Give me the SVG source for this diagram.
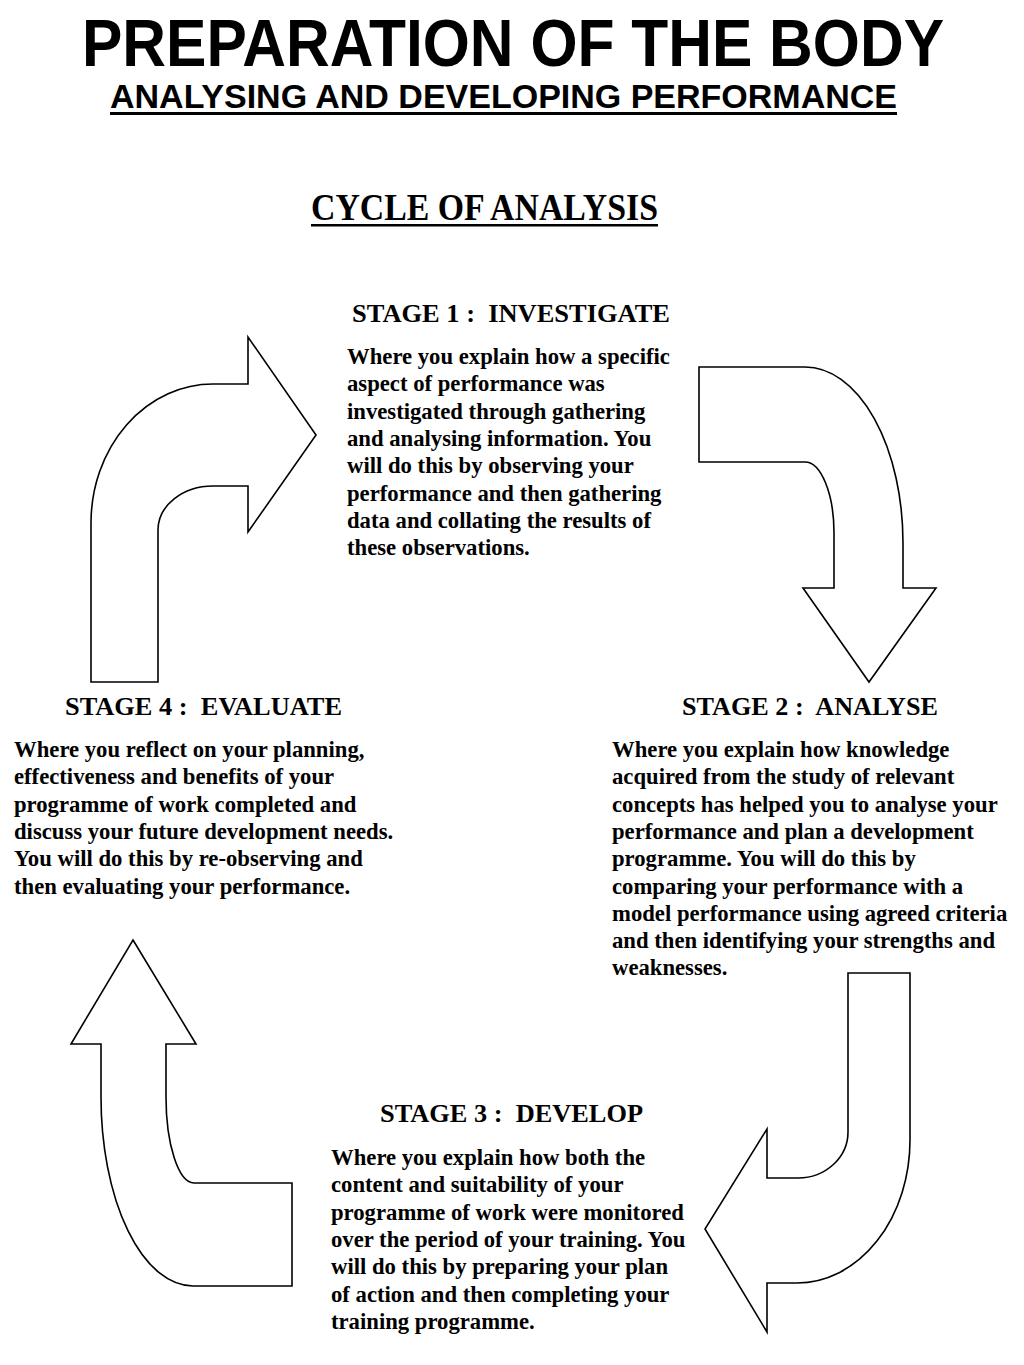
<svg xmlns="http://www.w3.org/2000/svg" width="1024" height="1365" viewBox="0 0 1024 1365">
<style>
.arrow{fill:#fff;stroke:#000;stroke-width:1.6;stroke-linejoin:miter}
.h{font-family:"Liberation Serif","Times New Roman",serif;font-weight:bold;font-size:25.6px;fill:#000}
.b{font-family:"Liberation Serif","Times New Roman",serif;font-weight:bold;font-size:22.7px;fill:#000}
.sans{font-family:"Liberation Sans",Arial,sans-serif;font-weight:bold;fill:#000}
</style>
<rect width="1024" height="1365" fill="#fff"/>
<g id="title">
<text class="sans" x="82" y="66" font-size="66" textLength="862" lengthAdjust="spacingAndGlyphs">PREPARATION OF THE BODY</text>
<text class="sans" x="110" y="108" font-size="33" textLength="787" lengthAdjust="spacingAndGlyphs">ANALYSING AND DEVELOPING PERFORMANCE</text>
<rect x="110" y="112" width="787" height="3" fill="#000"/>
<text x="311" y="220" font-family="Liberation Serif,'Times New Roman',serif" font-weight="bold" font-size="37" textLength="347" lengthAdjust="spacingAndGlyphs">CYCLE OF ANALYSIS</text>
<rect x="311" y="224" width="347" height="2.5" fill="#000"/>
</g>
<g id="stage1">
<text class="h" x="352" y="322" textLength="318" lengthAdjust="spacingAndGlyphs" xml:space="preserve">STAGE 1 :  INVESTIGATE</text>
<text class="b" x="347" y="364">
<tspan x="347" dy="0">Where you explain how a specific</tspan>
<tspan x="347" dy="27.3">aspect of performance was</tspan>
<tspan x="347" dy="27.3">investigated through gathering</tspan>
<tspan x="347" dy="27.3">and analysing information. You</tspan>
<tspan x="347" dy="27.3">will do this by observing your</tspan>
<tspan x="347" dy="27.3">performance and then gathering</tspan>
<tspan x="347" dy="27.3">data and collating the results of</tspan>
<tspan x="347" dy="27.3">these observations.</tspan>
</text>
</g>
<g id="stage2">
<text class="h" x="682" y="715" textLength="256" lengthAdjust="spacingAndGlyphs" xml:space="preserve">STAGE 2 :  ANALYSE</text>
<text class="b" x="612" y="757">
<tspan x="612" dy="0">Where you explain how knowledge</tspan>
<tspan x="612" dy="27.3">acquired from the study of relevant</tspan>
<tspan x="612" dy="27.3">concepts has helped you to analyse your</tspan>
<tspan x="612" dy="27.3">performance and plan a development</tspan>
<tspan x="612" dy="27.3">programme. You will do this by</tspan>
<tspan x="612" dy="27.3">comparing your performance with a</tspan>
<tspan x="612" dy="27.3">model performance using agreed criteria</tspan>
<tspan x="612" dy="27.3">and then identifying your strengths and</tspan>
<tspan x="612" dy="27.3">weaknesses.</tspan>
</text>
</g>
<g id="stage3">
<text class="h" x="380" y="1122" textLength="263" lengthAdjust="spacingAndGlyphs" xml:space="preserve">STAGE 3 :  DEVELOP</text>
<text class="b" x="331" y="1165">
<tspan x="331" dy="0">Where you explain how both the</tspan>
<tspan x="331" dy="27.3">content and suitability of your</tspan>
<tspan x="331" dy="27.3">programme of work were monitored</tspan>
<tspan x="331" dy="27.3">over the period of your training. You</tspan>
<tspan x="331" dy="27.3">will do this by preparing your plan</tspan>
<tspan x="331" dy="27.3">of action and then completing your</tspan>
<tspan x="331" dy="27.3">training programme.</tspan>
</text>
</g>
<g id="stage4">
<text class="h" x="65" y="715" textLength="277" lengthAdjust="spacingAndGlyphs" xml:space="preserve">STAGE 4 :  EVALUATE</text>
<text class="b" x="14" y="757">
<tspan x="14" dy="0">Where you reflect on your planning,</tspan>
<tspan x="14" dy="27.3">effectiveness and benefits of your</tspan>
<tspan x="14" dy="27.3">programme of work completed and</tspan>
<tspan x="14" dy="27.3">discuss your future development needs.</tspan>
<tspan x="14" dy="27.3">You will do this by re-observing and</tspan>
<tspan x="14" dy="27.3">then evaluating your performance.</tspan>
</text>
</g>
<g id="connectors">
<path id="arrow-4-to-1" class="arrow" d="M91,682 L91,523 A122,139 0 0 1 213,384 L248,384 L248,337 L316,435 L248,532 L248,486 L213,486 A55,44 0 0 0 158,530 L158,682 Z"/>
<path id="arrow-1-to-2" class="arrow" d="M699,367 L805,367 A98,176 0 0 1 903,543 L903,588 L936,588 L869,682 L803,588 L834,588 L834,533 A29,71 0 0 0 805,462 L699,462 Z"/>
<path id="arrow-2-to-3" class="arrow" d="M848,973 L910,973 L910,1140 A113,143 0 0 1 797,1283 L767,1283 L767,1332 L705,1229 L767,1129 L767,1178 L798,1178 A50,46 0 0 0 848,1132 Z"/>
<path id="arrow-3-to-4" class="arrow" d="M133,940 L196,1044 L166,1044 L166,1097 A28,86 0 0 0 194,1183 L292,1183 L292,1286 L193,1286 A92,189 0 0 1 101,1097 L101,1044 L71,1044 Z"/>
</g>
</svg>
